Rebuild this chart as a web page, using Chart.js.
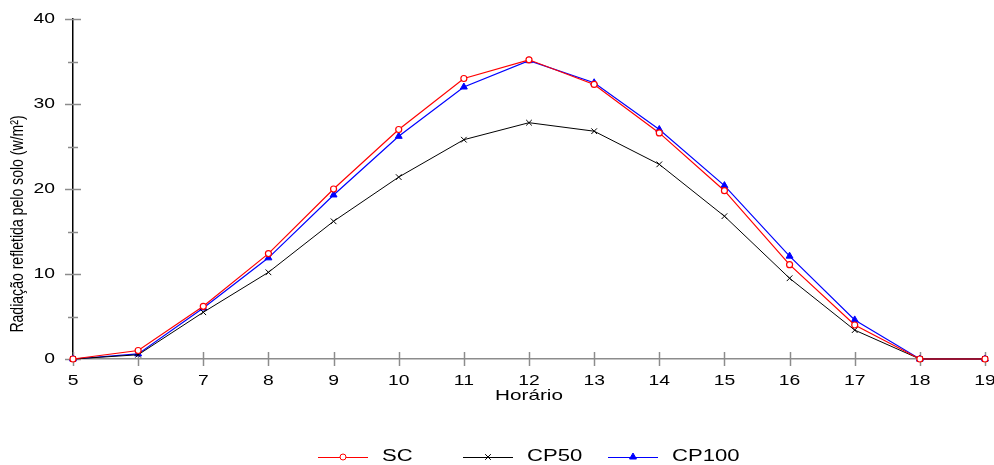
<!DOCTYPE html>
<html>
<head>
<meta charset="utf-8">
<script src="https://cdn.jsdelivr.net/npm/chart.js@4"></script>
<style>
  html, body { margin: 0; padding: 0; background: #fff; }
  #wrap { width: 994px; height: 465px; }
</style>
</head>
<body>
<div id="wrap"><canvas id="chart" width="994" height="465"></canvas></div>
<script>
const hours = [5, 6, 7, 8, 9, 10, 11, 12, 13, 14, 15, 16, 17, 18, 19];
const sc    = [0, 1.0, 6.2, 12.4, 20.0, 27.0, 33.0, 35.2, 32.3, 26.6, 19.8, 11.1, 4.0, 0, 0];
const cp50  = [0, 0.5, 5.5, 10.2, 16.2, 21.4, 25.8, 27.8, 26.8, 22.9, 16.8, 9.5, 3.4, 0, 0];
const cp100 = [0, 0.6, 6.0, 11.9, 19.3, 26.2, 32.0, 35.1, 32.5, 27.0, 20.4, 12.1, 4.6, 0, 0];
const yTicks = [0, 10, 20, 30, 40];

const xTitle = 'Horário';
const yTitle = 'Radiação refletida pelo solo (w/m²)';

const toXY = vals => vals.map((v, i) => ({ x: hours[i], y: v }));

const FONT = '"Liberation Sans", Arial, sans-serif';
const STRETCH = 1.38;

// draw text stretched sideways like the original export
function wideText(ctx, txt, x, y, size, align) {
    ctx.save();
    ctx.translate(x, y);
    ctx.scale(STRETCH, 1);
    ctx.font = size + 'px ' + FONT;
    ctx.textAlign = align;
    ctx.textBaseline = 'middle';
    ctx.fillStyle = '#000';
    ctx.fillText(txt, 0, 0);
    ctx.restore();
}

// tick marks that cross the axes, tick labels, titles and a legend with line + marker
const decor = {
    id: 'decor',
    beforeDatasetsDraw(chart) {
        const ctx = chart.ctx;
        const xs = chart.scales.x, ys = chart.scales.y;
        ctx.save();
        ctx.strokeStyle = '#8c8c8c';
        ctx.lineWidth = 1.5;
        for (let v = 0; v <= 40; v += 5) {
            const py = Math.round(ys.getPixelForValue(v)) + 0.5;
            const big = v % 10 === 0;
            ctx.beginPath();
            ctx.moveTo(xs.left - (big ? 8 : 5), py);
            ctx.lineTo(xs.left + (big ? 8 : 5), py);
            ctx.stroke();
        }
        hours.forEach(h => {
            const px = Math.round(xs.getPixelForValue(h)) + 0.5;
            ctx.beginPath();
            ctx.moveTo(px, ys.bottom - 7);
            ctx.lineTo(px, ys.bottom + 7);
            ctx.stroke();
        });
        ctx.restore();
    },
    afterDraw(chart) {
        const ctx = chart.ctx;
        const xs = chart.scales.x, ys = chart.scales.y;

        xs.ticks.forEach(t => wideText(ctx, String(t.value), xs.getPixelForValue(t.value), ys.bottom + 22, 14, 'center'));
        ys.ticks.forEach(t => wideText(ctx, String(t.value), xs.left - 18, ys.getPixelForValue(t.value), 14, 'right'));

        wideText(ctx, xTitle, 529, 396, 15, 'center');

        // y title, squeezed
        ctx.save();
        ctx.translate(18, 224);
        ctx.rotate(-Math.PI / 2);
        ctx.scale(0.74, 1);
        ctx.font = '19px ' + FONT;
        ctx.textAlign = 'center';
        ctx.textBaseline = 'middle';
        ctx.fillStyle = '#000';
        ctx.fillText(yTitle, 0, 0);
        ctx.restore();

        // legend
        const items = [
            { ds: 0, x: 318 },
            { ds: 1, x: 463 },
            { ds: 2, x: 608 }
        ];
        const ly = 457;
        items.forEach(it => {
            const d = chart.data.datasets[it.ds];
            ctx.save();
            ctx.strokeStyle = d.borderColor;
            ctx.lineWidth = 1;
            ctx.beginPath();
            ctx.moveTo(it.x, ly + 0.5);
            ctx.lineTo(it.x + 50, ly + 0.5);
            ctx.stroke();
            ctx.fillStyle = d.pointBackgroundColor;
            ctx.strokeStyle = d.pointBorderColor;
            Chart.helpers.drawPoint(ctx, {
                pointStyle: d.pointStyle,
                radius: d.pointRadius,
                borderWidth: d.pointBorderWidth || 1
            }, it.x + 25, ly);
            ctx.restore();
            wideText(ctx, d.label, it.x + 64, ly, 16, 'left');
        });
    }
};

new Chart(document.getElementById('chart'), {
    type: 'line',
    data: {
        datasets: [
            {
                label: 'SC',
                data: toXY(sc),
                borderColor: '#ff0000',
                backgroundColor: '#ff0000',
                pointStyle: 'circle',
                pointRadius: 3,
                pointBorderWidth: 1.2,
                pointBackgroundColor: '#ffffff',
                pointBorderColor: '#ff0000',
                borderWidth: 1.2
            },
            {
                label: 'CP50',
                data: toXY(cp50),
                borderColor: '#000000',
                backgroundColor: '#000000',
                pointStyle: 'crossRot',
                pointRadius: 4,
                pointBorderWidth: 1,
                pointBackgroundColor: '#000000',
                pointBorderColor: '#000000',
                borderWidth: 1
            },
            {
                label: 'CP100',
                data: toXY(cp100),
                borderColor: '#0000ff',
                backgroundColor: '#0000ff',
                pointStyle: 'triangle',
                pointRadius: 4,
                pointBorderWidth: 1,
                pointBackgroundColor: '#0000ff',
                pointBorderColor: '#0000ff',
                borderWidth: 1.2
            }
        ]
    },
    options: {
        responsive: false,
        animation: false,
        clip: false,
        layout: { padding: { top: 19, right: 9, left: 0, bottom: 0 } },
        plugins: {
            legend: { display: false },
            tooltip: { enabled: false }
        },
        scales: {
            x: {
                type: 'linear',
                min: 5,
                max: 19,
                afterFit: s => { s.height = 106; s.paddingLeft = 0; s.paddingRight = 0; },
                afterBuildTicks: s => { s.ticks = hours.map(v => ({ value: v })); },
                grid: { display: false },
                border: { display: true, color: '#8c8c8c', width: 1.5 },
                ticks: {
                    color: 'rgba(0,0,0,0)',
                    padding: 8,
                    maxRotation: 0,
                    autoSkip: false,
                    font: { family: 'Liberation Sans', size: 14 }
                }
            },
            y: {
                min: 0,
                max: 40,
                afterFit: s => { s.width = 73; s.paddingTop = 0; s.paddingBottom = 0; },
                afterBuildTicks: s => { s.ticks = yTicks.map(v => ({ value: v })); },
                grid: { display: false },
                border: { display: true, color: '#000', width: 1.5 },
                ticks: {
                    color: 'rgba(0,0,0,0)',
                    padding: 17,
                    font: { family: 'Liberation Sans', size: 14 }
                }
            }
        }
    },
    plugins: [decor]
});
</script>
</body>
</html>
